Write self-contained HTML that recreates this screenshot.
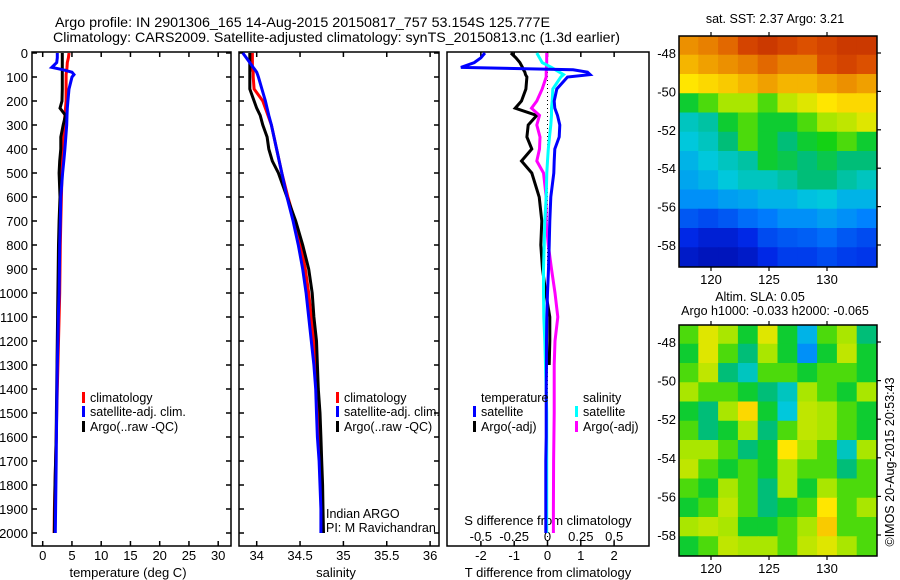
<!DOCTYPE html>
<html><head><meta charset="utf-8"><style>
html,body{margin:0;padding:0;background:#fff;}
svg{display:block;font-family:"Liberation Sans",sans-serif;}
</style></head><body>
<svg id="chart" width="900" height="580" viewBox="0 0 900 580" xmlns="http://www.w3.org/2000/svg">
<text x="55" y="27" font-size="14" textLength="495" lengthAdjust="spacingAndGlyphs">Argo profile: IN 2901306_165 14-Aug-2015 20150817_757 53.154S 125.777E</text>
<text x="53" y="42" font-size="14" textLength="567" lengthAdjust="spacingAndGlyphs">Climatology: CARS2009. Satellite-adjusted climatology: synTS_20150813.nc (1.3d earlier)</text>
<g id="plots"></g>
</svg>
<script>
// ---------- data ----------
const depths = [0,20,40,60,70,80,90,100,150,200,230,260,300,350,400,450,500,600,700,800,900,1000,1100,1200,1300,1400,1500,1600,1700,1800,1900,2000];
const tempClim = [4.5,4.4,4.2,4.15,4.1,4.05,4.0,4.0,4.0,4.0,3.9,3.8,3.65,3.55,3.45,3.35,3.3,3.2,3.1,3.0,2.95,2.9,2.8,2.7,2.6,2.5,2.4,2.3,2.2,2.1,2.0,1.95];
const tempSat = [2.5,2.5,2.4,1.55,3.5,5.0,5.35,5.0,4.5,4.3,4.2,4.15,4.1,3.95,3.8,3.6,3.4,3.1,3.0,2.9,2.85,2.8,2.67,2.6,2.5,2.45,2.4,2.35,2.3,2.25,2.2,2.15];
const tempArgo = [3.35,3.35,3.35,3.35,3.35,3.35,3.35,3.35,3.35,3.3,2.96,3.9,3.5,3.1,3.1,2.9,2.8,2.95,2.8,2.7,2.65,2.6,2.55,2.5,2.45,2.4,2.35,2.3,2.2,2.1,2.05,2.0];
const salClim = [33.95,33.95,33.95,33.95,33.95,33.96,33.96,33.96,33.97,34.07,34.1,34.13,34.17,34.2,34.23,34.26,34.29,34.36,34.44,34.51,34.56,34.6,34.63,34.66,34.68,34.69,34.71,34.72,34.73,34.74,34.745,34.745];
const salSat = [33.84,33.88,33.92,33.96,33.98,34.0,34.01,34.02,34.06,34.1,34.12,34.14,34.17,34.2,34.23,34.26,34.29,34.35,34.42,34.48,34.53,34.57,34.6,34.63,34.66,34.68,34.69,34.7,34.72,34.73,34.74,34.74];
const salArgo = [33.92,33.92,33.92,33.92,33.92,33.92,33.92,33.92,33.92,33.97,34.0,34.04,34.07,34.12,34.14,34.18,34.25,34.35,34.45,34.53,34.6,34.64,34.66,34.69,34.7,34.71,34.73,34.74,34.75,34.76,34.765,34.77];
const tDiffSat = [-1.88,-2.0,-2.2,-2.6,0.77,1.2,1.28,0.6,0.28,0.2,0.22,0.3,0.37,0.35,0.22,0.2,0.19,0.1,0.07,0.05,0.03,0.0,-0.02,-0.03,-0.03,-0.04,-0.04,-0.04,-0.05,-0.05,-0.05,-0.05];
const tDiffArgo = [-1.1,-0.95,-0.83,-0.75,-0.72,-0.68,-0.66,-0.62,-0.65,-0.78,-0.97,-0.32,-0.58,-0.62,-0.47,-0.78,-0.47,-0.25,-0.17,-0.2,-0.15,-0.05,0.07,0.07,0.05];
const sDiffSat = [-0.08,-0.06,-0.04,0.03,0.06,0.09,0.12,0.1,0.04,0.035,0.03,0.03,0.025,0.015,0.006,0.0,-0.005,-0.01,-0.02,-0.025,-0.03,-0.03,-0.028,-0.02,-0.015,-0.01,-0.006,-0.006,-0.006,-0.006,-0.006,-0.006];
const sDiffArgo = [-0.006,-0.006,-0.006,-0.008,-0.008,-0.01,-0.01,-0.01,-0.04,-0.08,-0.12,-0.06,-0.08,-0.056,-0.06,-0.08,-0.03,-0.01,-0.01,0.006,0.03,0.056,0.077,0.056,0.05,0.05,0.05,0.048,0.046,0.045,0.044,0.044];
const depthTicks = [0,100,200,300,400,500,600,700,800,900,1000,1100,1200,1300,1400,1500,1600,1700,1800,1900,2000];
const tempTicks = [0,5,10,15,20,25,30];
const salTicks = [34,34.5,35,35.5,36];
const salTickLabels = ["34","34.5","35","35.5","36"];
const tDiffTicks = [-2,-1,0,1,2];
const sDiffTicks = [-0.5,-0.25,0,0.25,0.5];
const sDiffTickLabels = ["-0.5","-0.25","0","0.25","0.5"];
const latTicks = [-48,-50,-52,-54,-56,-58];
const lonTicks = [120,125,130];
const sstGrid = [
[0.80,0.82,0.85,0.90,0.92,0.90,0.88,0.90,0.92,0.92],
[0.75,0.78,0.80,0.82,0.85,0.82,0.82,0.88,0.90,0.88],
[0.68,0.70,0.72,0.75,0.78,0.75,0.75,0.78,0.80,0.78],
[0.50,0.55,0.60,0.60,0.55,0.62,0.65,0.68,0.70,0.70],
[0.40,0.42,0.50,0.55,0.50,0.50,0.55,0.60,0.62,0.65],
[0.38,0.40,0.45,0.55,0.50,0.45,0.50,0.52,0.55,0.50],
[0.35,0.38,0.40,0.42,0.50,0.48,0.45,0.48,0.45,0.45],
[0.33,0.35,0.38,0.40,0.40,0.42,0.45,0.45,0.42,0.40],
[0.30,0.30,0.32,0.33,0.35,0.35,0.37,0.38,0.35,0.35],
[0.22,0.20,0.22,0.25,0.27,0.30,0.30,0.32,0.30,0.28],
[0.15,0.12,0.12,0.15,0.20,0.22,0.23,0.25,0.22,0.20],
[0.10,0.08,0.08,0.10,0.15,0.18,0.18,0.20,0.18,0.17]];
const slaGrid = [
[0.55,0.65,0.60,0.50,0.65,0.50,0.35,0.55,0.60,0.45],
[0.50,0.65,0.55,0.45,0.60,0.50,0.30,0.50,0.62,0.50],
[0.55,0.62,0.45,0.40,0.55,0.55,0.50,0.55,0.55,0.50],
[0.60,0.55,0.55,0.50,0.45,0.40,0.60,0.55,0.50,0.60],
[0.50,0.45,0.60,0.70,0.50,0.38,0.62,0.60,0.55,0.50],
[0.55,0.45,0.50,0.60,0.45,0.55,0.62,0.60,0.55,0.50],
[0.60,0.60,0.55,0.45,0.50,0.68,0.60,0.55,0.40,0.60],
[0.62,0.55,0.50,0.55,0.50,0.60,0.55,0.55,0.45,0.55],
[0.55,0.50,0.60,0.55,0.45,0.60,0.50,0.60,0.55,0.55],
[0.50,0.55,0.62,0.55,0.45,0.50,0.55,0.68,0.55,0.60],
[0.60,0.62,0.60,0.50,0.50,0.55,0.60,0.72,0.55,0.55],
[0.50,0.55,0.62,0.60,0.60,0.55,0.62,0.65,0.60,0.55]];

// ---------- helpers ----------
const NS = "http://www.w3.org/2000/svg";
const root = document.getElementById('plots');
function mk(tag, attrs, parent){const e=document.createElementNS(NS,tag);for(const k in attrs)e.setAttribute(k,attrs[k]);(parent||root).appendChild(e);return e;}
const PT=52, PB=546;
const yDepth = d => 53 + d*0.24;
const xTemp = t => 42.7 + t*5.85;
const xSal = s => 256.7 + (s-34)*86.7;
const xTD = t => 547.5 + t*33.3;
const xSD = s => 547.5 + s*133.3;

function frame(x0,x1,name){
  const r=mk('rect',{x:x0,y:PT,width:x1-x0,height:PB-PT,fill:'none',stroke:'#000','stroke-width':1.5});
  
  
}
function line(xs, ds, xf, color, name, w){
  const p = xs.map((v,i)=>xf(v).toFixed(1)+','+yDepth(ds[i]).toFixed(1)).join(' ');
  const e=mk('polyline',{points:p,fill:'none',stroke:color,'stroke-width':w||3,'stroke-linejoin':'miter'});
  
  
}
function txt(x,y,s,size,anchor,name,extra){
  const e=mk('text',Object.assign({x:x,y:y,'font-size':size,'text-anchor':anchor||'start'},extra||{}));
  e.textContent=s;
  
  
  return e;
}
function depthTicksIn(x0,x1){
  depthTicks.forEach(d=>{const y=yDepth(d);
    mk('line',{x1:x0,y1:y,x2:x0+5,y2:y,stroke:'#000','stroke-width':1.5});
    mk('line',{x1:x1,y1:y,x2:x1-5,y2:y,stroke:'#000','stroke-width':1.5});});
}
function legendItem(x,y,color,label,name){
  const r=mk('rect',{x:x,y:y-10,width:3,height:11,fill:color});
  
  
  txt(x+8,y,label,12.5,'start',name);
}

// ---------- panel 1 temperature ----------
frame(32,231,'temperature-panel');
depthTicksIn(32,231);
depthTicks.forEach(d=>txt(28,yDepth(d)+5,String(d),13,'end','depth-tick-label'));
tempTicks.forEach(t=>{const x=xTemp(t);
  mk('line',{x1:x,y1:PB,x2:x,y2:PB-5,stroke:'#000','stroke-width':1.5});
  mk('line',{x1:x,y1:PT,x2:x,y2:PT+5,stroke:'#000','stroke-width':1.5});
  txt(x,560,String(t),13,'middle','temperature-tick-label');});
txt(128,577,'temperature (deg C)',13,'middle','temperature-axis-title');
line(tempClim,depths,xTemp,'#f00','temperature-climatology-line');
line(tempArgo,depths,xTemp,'#000','temperature-argo-line');
line(tempSat,depths,xTemp,'#00f','temperature-satellite-line');
legendItem(82,402,'#f00','climatology','legend-climatology');
legendItem(82,416,'#00f','satellite-adj. clim.','legend-satellite-adj');
legendItem(82,431,'#000','Argo(..raw -QC)','legend-argo');

// ---------- panel 2 salinity ----------
frame(239,439,'salinity-panel');
depthTicksIn(239,439);
salTicks.forEach((s,i)=>{const x=xSal(s);
  mk('line',{x1:x,y1:PB,x2:x,y2:PB-5,stroke:'#000','stroke-width':1.5});
  mk('line',{x1:x,y1:PT,x2:x,y2:PT+5,stroke:'#000','stroke-width':1.5});
  txt(x,560,salTickLabels[i],13,'middle','salinity-tick-label');});
txt(336,577,'salinity',13,'middle','salinity-axis-title');
line(salClim,depths,xSal,'#f00','salinity-climatology-line');
line(salArgo,depths,xSal,'#000','salinity-argo-line');
line(salSat,depths,xSal,'#00f','salinity-satellite-line');
legendItem(336,402,'#f00','climatology','legend2-climatology');
legendItem(336,416,'#00f','satellite-adj. clim.','legend2-satellite-adj');
legendItem(336,431,'#000','Argo(..raw -QC)','legend2-argo');
txt(326,518,'Indian ARGO',12.5,'start','indian-argo-label');
txt(326,532,'PI: M Ravichandran',12.5,'start','pi-label');

// ---------- panel 3 differences ----------
frame(447,649,'difference-panel');
mk('line',{x1:547.5,y1:PT,x2:547.5,y2:PB,stroke:'#000','stroke-width':1,'stroke-dasharray':'1,3'});
tDiffTicks.forEach(t=>{const x=xTD(t);
  mk('line',{x1:x,y1:PB,x2:x,y2:PB-5,stroke:'#000','stroke-width':1.5});
  txt(x,560,String(t),13,'middle','t-diff-tick-label');});
sDiffTicks.forEach((s,i)=>{const x=xSD(s);
  mk('line',{x1:x,y1:PT,x2:x,y2:PT+5,stroke:'#000','stroke-width':1.5});
  txt(x,541,sDiffTickLabels[i],13,'middle','s-diff-tick-label');});
txt(548,525,'S difference from climatology',13,'middle','s-diff-axis-title');
txt(548,577,'T difference from climatology',13,'middle','t-diff-axis-title');
line(tDiffArgo,depths.slice(0,tDiffArgo.length),xTD,'#000','t-diff-argo-line');
line(sDiffArgo,depths,xSD,'#f0f','s-diff-argo-line');
line(sDiffSat,depths,xSD,'#0ff','s-diff-satellite-line');
line(tDiffSat,depths,xTD,'#00f','t-diff-satellite-line');
txt(481,402,'temperature',12.5,'start','legend-temperature-heading');
legendItem(473,416,'#00f','satellite','legend-t-satellite');
legendItem(473,431,'#000','Argo(-adj)','legend-t-argo');
txt(583,402,'salinity',12.5,'start','legend-salinity-heading');
legendItem(575,416,'#0ff','satellite','legend-s-satellite');
legendItem(575,431,'#f0f','Argo(-adj)','legend-s-argo');

// ---------- maps ----------
const cmapStops=[[0,[0,0,140]],[0.15,[0,40,230]],[0.28,[0,130,255]],[0.38,[0,200,220]],[0.45,[0,190,120]],[0.52,[20,210,20]],[0.6,[170,230,0]],[0.68,[255,230,0]],[0.78,[240,160,0]],[0.88,[220,80,0]],[1,[170,10,0]]];
function cmap(v){
  for(let i=1;i<cmapStops.length;i++){const a=cmapStops[i-1],b=cmapStops[i];
    if(v<=b[0]){const f=(v-a[0])/(b[0]-a[0]);
      return 'rgb('+a[1].map((c,k)=>Math.round(c+(b[1][k]-c)*f)).join(',')+')';}}
  return 'rgb(170,10,0)';
}
function drawMap(grid,x0,y0,w,h,lat48y,lat58y,name,clipId){
  const ppd=(lat58y-lat48y)/10;
  const latY = lat => lat48y + (-48-lat)*ppd;
  const lonX = lon => 711 + (lon-120)*11.6;
  const lonMin=120+(x0-711)/11.6, lonMax=120+(x0+w-711)/11.6;
  const latTop=-48+(lat48y-y0)/ppd, latBot=-48-(y0+h-lat48y)/ppd;
  const rows=grid.length, cols=grid[0].length;
  const cp=mk('clipPath',{id:clipId});mk('rect',{x:x0,y:y0,width:w,height:h},cp);
  const g=mk('g',{'clip-path':'url(#'+clipId+')'});
  
  
  for(let r=0;r<rows;r++)for(let c=0;c<cols;c++){
    const la0=latTop+(latBot-latTop)*r/rows, la1=latTop+(latBot-latTop)*(r+1)/rows;
    const lo0=lonMin+(lonMax-lonMin)*c/cols, lo1=lonMin+(lonMax-lonMin)*(c+1)/cols;
    const cell=mk('rect',{x:lonX(lo0)-0.5,y:latY(la0)-0.5,width:lonX(lo1)-lonX(lo0)+1,height:latY(la1)-latY(la0)+1,fill:cmap(grid[r][c])},g);
    
    
  }
  const fr=mk('rect',{x:x0,y:y0,width:w,height:h,fill:'none',stroke:'#000','stroke-width':1.5});
  
  
  latTicks.forEach(l=>{const y=latY(l);
    mk('line',{x1:x0+w,y1:y,x2:x0+w+4,y2:y,stroke:'#000','stroke-width':1.2});
    txt(x0-3,y+5,String(l),13,'end',name+'-lat-label');});
  lonTicks.forEach(l=>{const x=lonX(l);
    mk('line',{x1:x,y1:y0,x2:x,y2:y0-4,stroke:'#000','stroke-width':1.2});
    mk('line',{x1:x,y1:y0+h,x2:x,y2:y0+h+4,stroke:'#000','stroke-width':1.2});
    txt(x,y0+h+17,String(l),13,'middle',name+'-lon-label');});
}
drawMap(sstGrid,679,36,198,231,53,245,'sst-map','clipSst');
drawMap(slaGrid,679,325,198,231,342,535,'sla-map','clipSla');
txt(775,23,'sat. SST: 2.37 Argo: 3.21',12.5,'middle','sst-map-title');
txt(760,301,'Altim. SLA: 0.05',12.5,'middle','sla-map-title');
txt(775,315,'Argo h1000: -0.033 h2000: -0.065',12.5,'middle','sla-map-subtitle');
txt(0,0,'©IMOS 20-Aug-2015 20:53:43',12.5,'middle','imos-credit',{transform:'translate(894,462) rotate(-90)'});
</script>
</body></html>
